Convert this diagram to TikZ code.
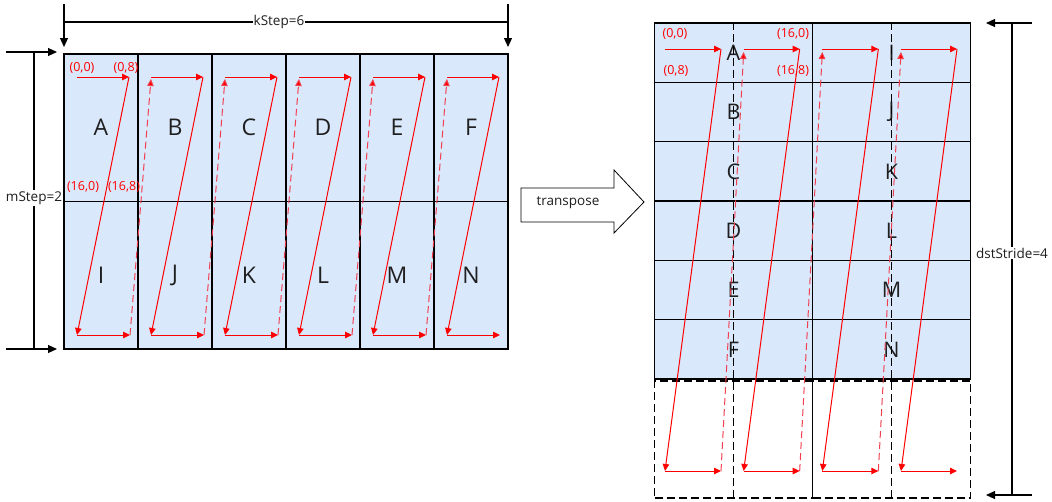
\documentclass[tikz,border=0pt]{standalone}
\usepackage{fontspec}
\setmainfont{Open Sans}
\usetikzlibrary{arrows.meta}
\definecolor{cellblue}{HTML}{DAE8FC}
\definecolor{dashred}{HTML}{F04050}
\tikzset{
  cellL/.style={draw=black, line width=1.1pt, fill=cellblue, minimum width=74pt, minimum height=147.5pt, inner sep=0pt, font=\fontsize{23}{26}\selectfont, text=black!88},
  cellR/.style={draw=black, line width=1.1pt, fill=cellblue, minimum width=158pt, minimum height=59.33pt, inner sep=0pt, font=\fontsize{21.5}{24}\selectfont, text=black!88},
  cellD/.style={draw=black, line width=1.1pt, dash pattern=on 8pt off 4pt, minimum width=158pt, minimum height=117pt, inner sep=0pt},
  blkdash/.style={draw=black, line width=1.1pt, dash pattern=on 8pt off 4pt},
  redarr/.style={draw=red, line width=1pt, -{Triangle[length=7pt,width=6.5pt]}},
  reddash/.style={draw=dashred, line width=1pt, dash pattern=on 7pt off 4pt, -{Triangle[length=7pt,width=6.5pt,fill=red]}},
  redlbl/.style={text=red, font=\fontsize{12.5}{14}\selectfont, inner sep=0pt},
  dimtxt/.style={font=\fontsize{13.5}{15}\selectfont, fill=white, inner sep=1pt, text=black!88},
  dimline/.style={draw=black, line width=1.1pt},
  dimarr/.style={draw=black, line width=1.1pt, -{Triangle[length=9pt,width=8pt]}},
}
\begin{document}
\begin{tikzpicture}[x=1pt,y=-1pt]
\useasboundingbox (0,0) rectangle (1052,501);

% ---------- left grid ----------
\foreach \n [count=\i from 0] in {A,B,C,D,E,F}{
  \node[cellL] (L\n) at ({101+74*\i},127.75) {\n};
}
\foreach \n [count=\i from 0] in {I,J,K,L,M,N}{
  \node[cellL] (L\n) at ({101+74*\i},275.25) {\n};
}

% left red path
\foreach \i in {0,...,5}{
  \pgfmathsetmacro\xa{64+74*\i+13}
  \pgfmathsetmacro\xb{64+74*\i+65}
  \coordinate (la\i) at (\xa,77);
  \coordinate (lb\i) at (\xb,77);
  \coordinate (lc\i) at (\xa,335);
  \coordinate (ld\i) at (\xb+1,335);
  \coordinate (lu\i) at (\xa,79);
}
\foreach \i in {0,...,5}{
  \draw[redarr] (la\i) -- (lb\i);
  \draw[redarr] (lb\i) -- (lc\i);
  \draw[redarr] (lc\i) -- (ld\i);
}
\foreach \i/\j in {0/1,1/2,2/3,3/4,4/5}{
  \draw[reddash] (ld\i) -- (lu\j);
}
\node[redlbl] (l00) at (82,68) {(0,0)};
\node[redlbl] (l08) at (126,68) {(0,8)};
\node[redlbl] (l160) at (83,187) {(16,0)};
\node[redlbl] (l168) at (124,187) {(16,8)};

% kStep dimension
\coordinate (k1) at (64,4);
\coordinate (k1e) at (64,47);
\coordinate (k2) at (508,4);
\coordinate (k2e) at (508,47);
\coordinate (kh1) at (64,22);
\coordinate (kh2) at (508,22);
\draw[dimarr] (k1) -- (k1e);
\draw[dimarr] (k2) -- (k2e);
\draw[dimline] (kh1) -- (kh2);
\node[dimtxt] (ktxt) at (279,22) {kStep=6};

% mStep dimension
\coordinate (m1) at (6,52);
\coordinate (m1e) at (57,52);
\coordinate (m2) at (6,349);
\coordinate (m2e) at (57,349);
\coordinate (mv1) at (34,52);
\coordinate (mv2) at (34,349);
\draw[dimarr] (m1) -- (m1e);
\draw[dimarr] (m2) -- (m2e);
\draw[dimline] (mv1) -- (mv2);
\node[dimtxt] (mtxt) at (34,198) {mStep=2};

% ---------- transpose arrow ----------
\draw[black, line width=0.8pt, fill=white, line join=miter]
  (521,188) -- (614,188) -- (614,170) -- (644,202) -- (614,233) -- (614,222) -- (521,222) -- cycle;
\node[font=\fontsize{13.5}{15}\selectfont, text=black!88, inner sep=0pt] (tr) at (568,203) {transpose};

% ---------- right grid ----------
\foreach \n [count=\i from 0] in {A,B,C,D,E,F}{
  \node[cellR] (R\n) at (733.5,{52.67+59.33*\i}) {\n};
}
\foreach \n [count=\i from 0] in {I,J,K,L,M,N}{
  \node[cellR] (R\n) at (891.5,{52.67+59.33*\i}) {\n};
}
\node[cellD] (D1) at (733.5,439.5) {};
\node[cellD] (D2) at (891.5,439.5) {};
\draw[blkdash] (RA.north) -- (D1.south);
\draw[blkdash] (RI.north) -- (D2.south);

% right red path
\foreach \j in {0,...,3}{
  \pgfmathsetmacro\xa{655+78.67*\j+10}
  \pgfmathsetmacro\xb{655+78.67*\j+66}
  \coordinate (ra\j) at (\xa,49);
  \coordinate (rb\j) at (\xb,49);
  \coordinate (rc\j) at (\xa,471);
  \coordinate (rd\j) at (\xb,471);
  \coordinate (ru\j) at (\xa,52);
}
\foreach \j in {0,...,3}{
  \draw[redarr] (ra\j) -- (rb\j);
  \draw[redarr] (rb\j) -- (rc\j);
  \draw[redarr] (rc\j) -- (rd\j);
}
\foreach \i/\j in {0/1,1/2,2/3}{
  \draw[reddash] (rd\i) -- (ru\j);
}
\node[redlbl] (r00) at (675,34) {(0,0)};
\node[redlbl] (r08) at (676,71) {(0,8)};
\node[redlbl] (r160) at (793,34) {(16,0)};
\node[redlbl] (r168) at (793,71) {(16,8)};

% dstStride dimension
\coordinate (s1) at (1032,23);
\coordinate (s1e) at (986,23);
\coordinate (s2) at (1032,495);
\coordinate (s2e) at (986,495);
\coordinate (sv1) at (1012,23);
\coordinate (sv2) at (1012,495);
\draw[dimarr] (s1) -- (s1e);
\draw[dimarr] (s2) -- (s2e);
\draw[dimline] (sv1) -- (sv2);
\node[dimtxt] (stxt) at (1012,253) {dstStride=4};
\end{tikzpicture}
\end{document}
